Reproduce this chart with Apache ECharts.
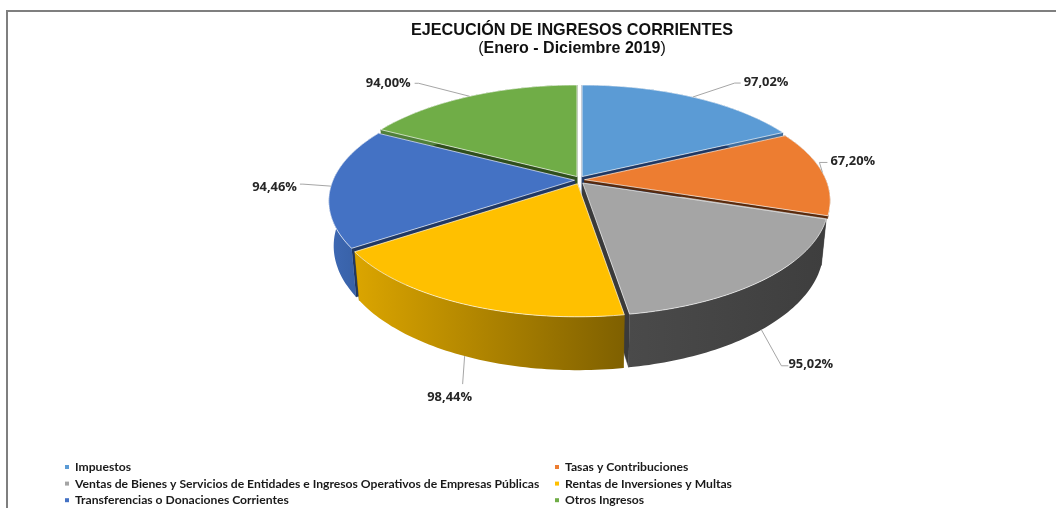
<!DOCTYPE html>
<html>
<head>
<meta charset="utf-8">
<script src="https://cdn.jsdelivr.net/npm/echarts@6/dist/echarts.min.js"></script>
<style>
html, body { margin: 0; padding: 0; background: #fff; overflow: hidden; }
#chart { width: 1056px; height: 508px; }
</style>
</head>
<body>
<div id="chart"></div>
<script>
const categories = ['Impuestos', 'Tasas y Contribuciones', 'Ventas de Bienes y Servicios de Entidades e Ingresos Operativos de Empresas Públicas', 'Rentas de Inversiones y Multas', 'Transferencias o Donaciones Corrientes', 'Otros Ingresos']
const values = [97.02, 67.20, 95.02, 98.44, 94.46, 94.00]
const topColors = ['#5B9BD5', '#ED7D31', '#A5A5A5', '#FFC000', '#4472C4', '#70AD47']
// color de las caras radiales y de la pared exterior (izq -> der)
const faceColors = ['#1F3864', '#5A2A0C', '#3A3A3A', '#7F6000', '#203864', '#2F4F1C']
const wallLeft = ['#3F6FA0', '#5A2A0C', '#4A4A4A', '#DBA500', '#3E69B4', '#50803A']
const wallRight = ['#3F6FA0', '#5A2A0C', '#3E3E3E', '#7F6000', '#335A9C', '#50803A']
// la porcion naranja casi no muestra pared en el original
const sideDepth = [1, 0.06, 1, 1, 1, 1]
// orden de pintado: atras primero
const paintOrder = [5, 0, 4, 1, 2, 3]
// desplazamiento de la linea guia desde el borde de la porcion (codo y fin)
const labelElbow = [[42, -14], [-3, -10], [20, 36], [-2, 28], [-28, -2], [-51, -13]]
const labelEnd = [[48, -14], [5, -10], [27, 36], [-2, 28], [-31, -2], [-55, -13]]
const labelShift = [[1, -1], [1, -1], [-2, -1], [-13, 13], [-1, 3], [-2, 0]]
const labelAlign = ['left', 'left', 'left', 'center', 'right', 'right']

// geometria de la torta en perspectiva
const cx = 579.5, cy = 180, rx = 241.5, ry = 108.5, persp = 0.185, depth = 43.5, explode = 5, shrink = 0.98

const total = values.reduce((a, b) => a + b, 0)

function sliceAngles (i) {
    let acc = 0
    for (let k = 0; k < i; k++) acc += values[k]
    return [acc / total * Math.PI * 2, (acc + values[i]) / total * Math.PI * 2]
}

function project (theta, off, drop) {
    const X = Math.sin(theta), Y = Math.cos(theta)
    const s = 1 / (1 + persp * Y)
    if (drop) {
        return [off[0] + rx * X * s * (1 - (1 - shrink) * drop / depth), off[1] - ry * Y * s + drop * s]
    }
    return [off[0] + rx * X * s, off[1] - ry * Y * s]
}

function arcPoints (a0, a1, off, drop) {
    const pts = []
    const n = 60
    for (let j = 0; j <= n; j++) {
        pts.push(project(a0 + (a1 - a0) * j / n, off, drop))
    }
    return pts
}

function face (pts, color) {
    return { type: 'polygon', shape: { points: pts }, style: { fill: color, stroke: color, lineWidth: 0.5 } }
}

function renderSlice (i) {
    const [a0, a1] = sliceAngles(i)
    const mid = (a0 + a1) / 2
    const off = [cx + explode * Math.sin(mid), cy - explode * Math.cos(mid) * 0.8]
    const drop = depth * sideDepth[i]
    const apexTop = off
    const apexBottom = [off[0], off[1] + drop]
    const children = []

    // caras radiales
    children.push(face([apexTop, project(a0, off), project(a0, off, drop), apexBottom], faceColors[i]))
    children.push(face([apexTop, project(a1, off), project(a1, off, drop), apexBottom], faceColors[i]))

    // pared exterior
    const wallTop = arcPoints(a0, a1, off)
    const wallBottom = arcPoints(a0, a1, off, drop).reverse()
    children.push({
        type: 'polygon',
        shape: { points: wallTop.concat(wallBottom) },
        style: {
            fill: new echarts.graphic.LinearGradient(0, 0, 1, 0, [
                { offset: 0, color: wallLeft[i] },
                { offset: 1, color: wallRight[i] }
            ])
        }
    })

    // tapa
    children.push({
        type: 'polygon',
        shape: { points: [apexTop].concat(wallTop) },
        style: { fill: topColors[i], stroke: 'rgba(255,255,255,0.65)', lineWidth: 1, lineJoin: 'round' }
    })

    // etiqueta con linea guia
    const front = Math.cos(mid) < -0.5
    const anchor = project(mid, off, front ? drop : 0)
    const elbow = [anchor[0] + labelElbow[i][0], anchor[1] + labelElbow[i][1]]
    const end = [anchor[0] + labelEnd[i][0], anchor[1] + labelEnd[i][1]]
    children.push({
        type: 'polyline',
        shape: { points: [anchor, elbow, end] },
        style: { fill: 'none', stroke: '#A6A6A6', lineWidth: 1 }
    })
    children.push({
        type: 'text',
        style: {
            text: values[i].toFixed(2).replace('.', ',') + '%',
            x: end[0] + labelShift[i][0] + (labelAlign[i] === 'left' ? 2 : labelAlign[i] === 'right' ? -2 : 0),
            y: end[1] + labelShift[i][1],
            align: labelAlign[i],
            verticalAlign: 'middle',
            fill: '#262626',
            font: 'bold 12.9px "Open Sans"'
        }
    })
    return { type: 'group', children: children }
}

const chart = echarts.init(document.getElementById('chart'), null, { renderer: 'canvas' })

const series = categories.map((name, i) => ({
    name: name,
    type: 'custom',
    coordinateSystem: 'none',
    silent: true,
    animation: false,
    z: 2 + paintOrder.indexOf(i),
    itemStyle: { color: topColors[i] },
    data: [values[i]],
    renderItem: () => renderSlice(i)
}))

const legendBase = {
    orient: 'vertical',
    icon: 'rect',
    itemWidth: 4,
    itemHeight: 4,
    itemGap: 4.6,
    top: 461,
    padding: 0,
    selectedMode: false,
    textStyle: { fontFamily: 'Lato', fontWeight: 'bold', fontSize: 12.15, color: '#1a1a1a', padding: [0, 0, 0, 1] }
}

chart.setOption({
    animation: false,
    backgroundColor: '#fff',
    title: {
        left: 567,
        top: 17,
        textAlign: 'center',
        text: 'EJECUCIÓN DE INGRESOS CORRIENTES\n{p|(}{b|Enero - Diciembre 2019}{p|)}',
        textStyle: {
            fontFamily: 'Liberation Sans',
            fontSize: 16.2,
            fontWeight: 'bold',
            color: '#111',
            lineHeight: 18,
            rich: {
                p: { fontFamily: 'Liberation Sans', fontSize: 16, fontWeight: 'normal', color: '#111', lineHeight: 18 },
                b: { fontFamily: 'Liberation Sans', fontSize: 16, fontWeight: 'bold', color: '#111', lineHeight: 18 }
            }
        }
    },
    legend: [
        Object.assign({}, legendBase, { left: 65, data: [categories[0], categories[2], categories[4]] }),
        Object.assign({}, legendBase, { left: 555, data: [categories[1], categories[3], categories[5]] })
    ],
    graphic: [{
        type: 'polyline',
        silent: true,
        shape: { points: [[7, 510], [7, 11], [1058, 11]] },
        style: { fill: 'none', stroke: '#7F7F7F', lineWidth: 2 }
    }],
    series: series
})
</script>
</body>
</html>
